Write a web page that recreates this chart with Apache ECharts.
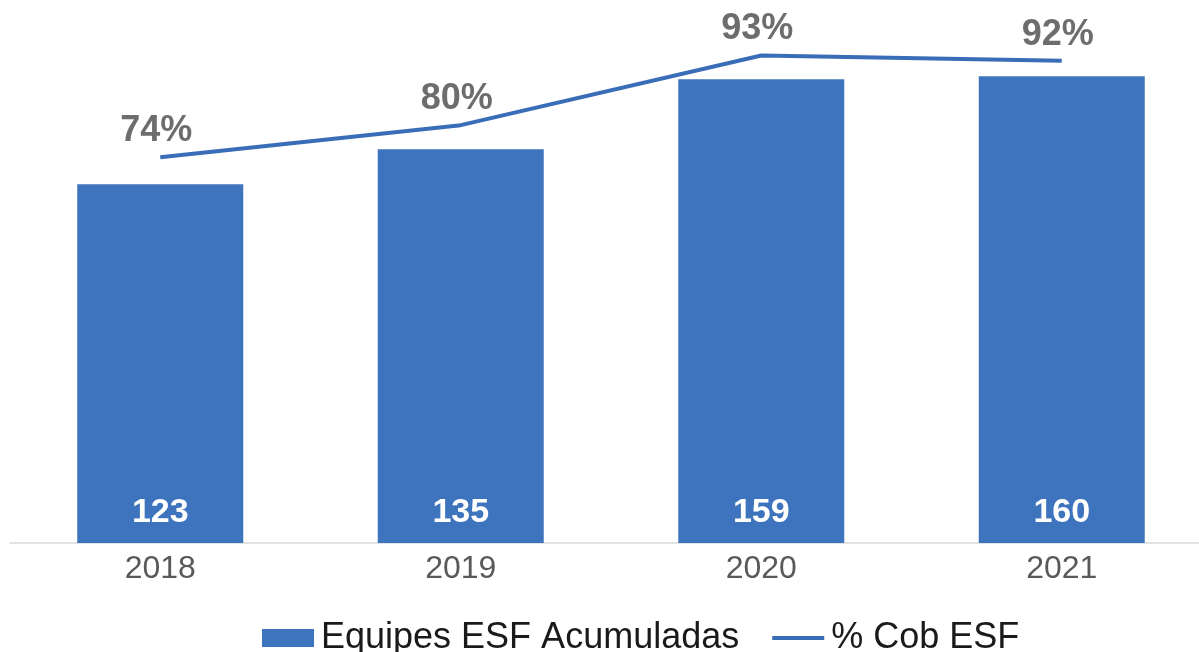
<!DOCTYPE html>
<html>
<head>
<meta charset="utf-8">
<script src="https://cdn.jsdelivr.net/npm/echarts@6/dist/echarts.min.js"></script>
<style>
html,body{margin:0;padding:0;background:#fff;overflow:hidden;width:1199px;height:652px;}
#chart{width:1212px;height:652px;}
</style>
</head>
<body>
<div id="chart"></div>
<script>
var categories = ['2018', '2019', '2020', '2021'];
var equipesESF = [123, 135, 159, 160];
var coberturaESF = [74, 80, 93, 92];
var seriesNames = ['Equipes ESF Acumuladas', '% Cob ESF'];

var chart = echarts.init(document.getElementById('chart'));
chart.setOption({
  backgroundColor: '#ffffff',
  animation: false,
  grid: { left: 10, right: 0, top: 18, height: 525, containLabel: false },
  legend: {
    data: [
      { name: seriesNames[0], icon: 'rect' },
      { name: seriesNames[1], icon: 'path://M0,0H55V4H0Z' }
    ],
    left: 257,
    top: 615,
    itemWidth: 52,
    itemHeight: 18,
    itemGap: 33,
    symbolKeepAspect: true,
    textStyle: {
      fontFamily: 'Liberation Sans, Arial, sans-serif',
      fontSize: 36,
      color: '#1a1a1a',
      lineHeight: 36,
      padding: [0, 0, 0, 2]
    }
  },
  xAxis: {
    type: 'category',
    data: categories,
    axisLine: { show: true, lineStyle: { color: '#d9d9d9', width: 1.5 } },
    axisTick: { show: false },
    axisLabel: {
      margin: 10,
      fontFamily: 'Liberation Sans, Arial, sans-serif',
      fontSize: 32,
      color: '#595959'
    }
  },
  yAxis: [
    { type: 'value', min: 0, max: 180, show: false, splitLine: { show: false } },
    { type: 'value', min: 2, max: 100, show: false, splitLine: { show: false } }
  ],
  series: [
    {
      name: seriesNames[0],
      type: 'bar',
      data: equipesESF,
      barWidth: 166,
      itemStyle: { color: '#3e74bd' },
      label: {
        show: true,
        position: 'insideBottom',
        distance: 13,
        color: '#ffffff',
        fontFamily: 'Liberation Sans, Arial, sans-serif',
        fontWeight: 'bold',
        fontSize: 34
      }
    },
    {
      name: seriesNames[1],
      type: 'line',
      yAxisIndex: 1,
      data: coberturaESF,
      symbol: 'circle',
      symbolSize: 0.1,
      showSymbol: true,
      lineStyle: { color: '#3a6db8', width: 4 },
      itemStyle: { color: '#3a6db8' },
      label: {
        show: true,
        position: 'top',
        distance: 8,
        offset: [-4, 0],
        formatter: '{c}%',
        color: '#6d6d6d',
        fontFamily: 'Liberation Sans, Arial, sans-serif',
        fontWeight: 'bold',
        fontSize: 36
      }
    }
  ]
});
</script>
</body>
</html>
